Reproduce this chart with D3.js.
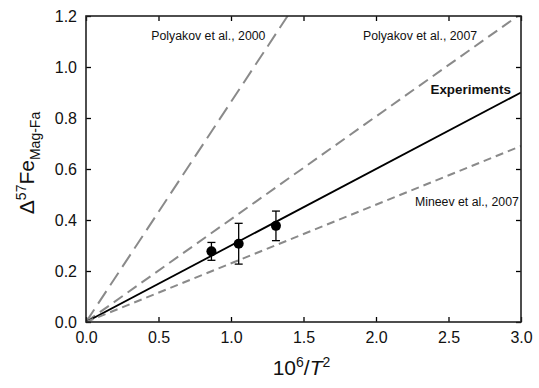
<!DOCTYPE html>
<html><head><meta charset="utf-8">
<script src="https://cdn.jsdelivr.net/npm/d3@7"></script>
<style>body{margin:0;background:#fff}text{font-family:"Liberation Sans",Arial,sans-serif}</style>
</head><body>
<script>
const xTicks=[0,0.5,1.0,1.5,2.0,2.5,3.0];
const yTicks=[0,0.2,0.4,0.6,0.8,1.0,1.2];
const lineNames=["Polyakov et al., 2000","Polyakov et al., 2007","Experiments","Mineev et al., 2007"];
const lineSlopes=[0.863,0.403,0.3,0.23];
const ptX=[0.865,1.053,1.31];
const ptY=[0.277,0.307,0.377];
const ptErr=[0.035,0.08,0.058];

const W=539,H=388;
const m={l:86,r:18,t:16,b:66};
const svg=d3.select("body").append("svg").attr("width",W).attr("height",H);
const x=d3.scaleLinear().domain([0,3]).range([m.l,W-m.r]);
const y=d3.scaleLinear().domain([0,1.2]).range([H-m.b,m.t]);

const defs=svg.append("defs");
defs.append("clipPath").attr("id","c").append("rect")
 .attr("x",x(0)).attr("y",y(1.2)).attr("width",x(3)-x(0)).attr("height",y(0)-y(1.2));

const styles=[
 {c:"#8a8a8a",w:2,d:"15,7"},
 {c:"#8a8a8a",w:2,d:"11,6"},
 {c:"#000",w:1.8,d:null},
 {c:"#8a8a8a",w:2,d:"8,5"}
];
const g=svg.append("g").attr("clip-path","url(#c)");
lineSlopes.forEach((s,i)=>{
 const l=g.append("line").attr("x1",x(0)).attr("y1",y(0)).attr("x2",x(3)).attr("y2",y(3*s))
  .attr("stroke",styles[i].c).attr("stroke-width",styles[i].w);
 if(styles[i].d) l.attr("stroke-dasharray",styles[i].d);
});

// error bars and points
ptX.forEach((v,i)=>{
 const cx=x(v);
 svg.append("line").attr("x1",cx).attr("x2",cx).attr("y1",y(ptY[i]-ptErr[i])).attr("y2",y(ptY[i]+ptErr[i])).attr("stroke","#000").attr("stroke-width",1.3);
 [ptY[i]-ptErr[i],ptY[i]+ptErr[i]].forEach(e=>{
  svg.append("line").attr("x1",cx-4).attr("x2",cx+4).attr("y1",y(e)).attr("y2",y(e)).attr("stroke","#000").attr("stroke-width",1.3);
 });
 svg.append("circle").attr("cx",cx).attr("cy",y(ptY[i])).attr("r",5).attr("fill","#000");
});

// axes
const tl=5;
const ax=(sel,axis)=>{sel.call(axis);sel.select(".domain").remove();sel.selectAll("line").attr("stroke","#000").attr("stroke-width",1.3);};
ax(svg.append("g").attr("transform",`translate(0,${y(0)})`),
 d3.axisBottom(x).tickValues(xTicks).tickSizeInner(-tl).tickSizeOuter(0).tickPadding(10).tickFormat(d3.format(".1f")));
ax(svg.append("g").attr("transform",`translate(0,${y(1.2)})`),
 d3.axisTop(x).tickValues(xTicks).tickSizeInner(-tl).tickSizeOuter(0).tickFormat(""));
ax(svg.append("g").attr("transform",`translate(${x(0)},0)`),
 d3.axisLeft(y).tickValues(yTicks).tickSizeInner(-tl).tickSizeOuter(0).tickPadding(9).tickFormat(d3.format(".1f")));
ax(svg.append("g").attr("transform",`translate(${x(3)},0)`),
 d3.axisRight(y).tickValues(yTicks).tickSizeInner(-tl).tickSizeOuter(0).tickFormat(""));
svg.selectAll(".tick text").attr("font-size",16).attr("fill","#111").attr("font-family","Liberation Sans, Arial, sans-serif");
svg.append("rect").attr("x",x(0)).attr("y",y(1.2)).attr("width",x(3)-x(0)).attr("height",y(0)-y(1.2))
 .attr("fill","none").attr("stroke","#222").attr("stroke-width",1.6);

// line labels
const lab=[
 {t:lineNames[0],x:x(0.45),y:y(1.106),a:"start",b:false},
 {t:lineNames[1],x:x(1.91),y:y(1.106),a:"start",b:false},
 {t:lineNames[2],x:x(2.93),y:y(0.895),a:"end",b:true},
 {t:lineNames[3],x:x(2.985),y:y(0.456),a:"end",b:false}
];
lab.forEach(d=>svg.append("text").attr("x",d.x).attr("y",d.y).attr("text-anchor",d.a)
 .attr("font-size",d.b?13.4:12.3).attr("font-weight",d.b?"bold":"normal").attr("fill","#111").text(d.t));

// axis titles
const xt=svg.append("text").attr("x",(x(0)+x(3))/2-2).attr("y",375).attr("text-anchor","middle").attr("font-size",21).attr("fill","#111");
xt.append("tspan").text("10");
xt.append("tspan").attr("font-size",14).attr("dy",-8).text("6");
xt.append("tspan").attr("dy",8).text("/");
xt.append("tspan").attr("font-style","italic").text("T");
xt.append("tspan").attr("font-size",14).attr("dy",-8).text("2");

const yt=svg.append("text").attr("transform",`translate(34,${(y(0)+y(1.2))/2-6}) rotate(-90)`).attr("text-anchor","middle").attr("font-size",21).attr("fill","#111");
yt.append("tspan").text("Δ");
yt.append("tspan").attr("font-size",14).attr("dy",-8).text("57");
yt.append("tspan").attr("dy",8).text("Fe");
yt.append("tspan").attr("font-size",14).attr("dy",6).text("Mag-Fa");
</script>
</body></html>
